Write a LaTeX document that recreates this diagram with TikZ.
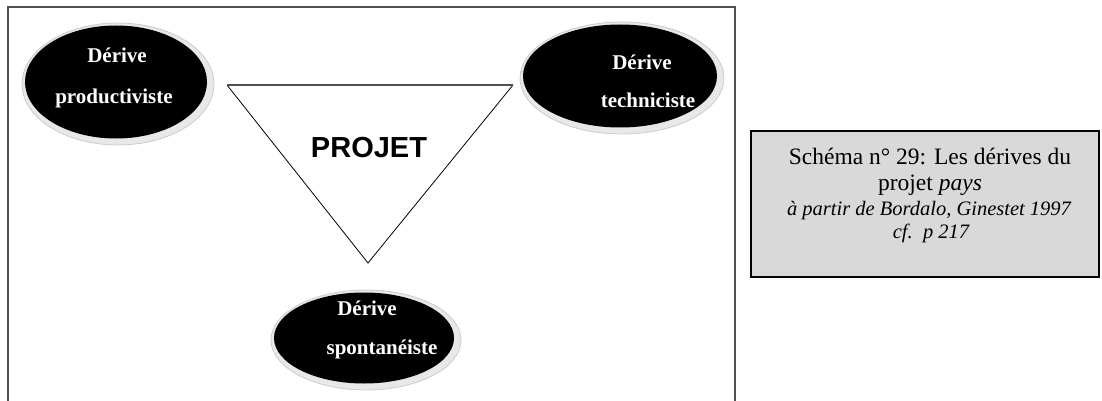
\documentclass[tikz,border=0pt]{standalone}
\usepackage{fontspec}
\usetikzlibrary{shapes.geometric}
\setmainfont{Liberation Serif}
\newfontfamily\arialfont{Liberation Sans}
\definecolor{framegray}{HTML}{505050}
\definecolor{boxgray}{HTML}{D9D9D9}
\definecolor{halogray}{HTML}{E8E8E8}
\begin{document}
\begin{tikzpicture}[x=1pt,y=-1pt,
  halo/.style={ellipse, fill=halogray, draw=gray!40, line width=0.8pt, inner sep=0pt},
  blackell/.style={ellipse, fill=black, inner sep=0pt},
  elltext/.style={text=white, font=\fontsize{21}{21}\selectfont\bfseries, inner sep=0pt, anchor=base},
  captext/.style={font=\fontsize{23.5}{24}\selectfont, inner sep=0pt, anchor=base},
  capital/.style={font=\fontsize{20.5}{21}\selectfont\itshape, inner sep=0pt, anchor=base}]
\useasboundingbox (0,0) rectangle (1102,401);
% frame (open at bottom)
\draw[framegray, line width=1.8pt] (8,401) -- (8,7) -- (735,7) -- (735,401);
% triangle
\coordinate (tl) at (227,85);
\coordinate (tr) at (513,85);
\coordinate (ta) at (368,263);
\draw[black, line width=0.8pt] (tl) -- (ta) -- (tr);
\draw[framegray, line width=1.6pt] (tl) -- (tr);
\node[font=\fontsize{29}{29}\selectfont\arialfont\bfseries, inner sep=0pt] (projet) at (369,148) {PROJET};
% left ellipse
\node[halo, minimum width=192pt, minimum height=122pt] (hl) at (118,84) {};
\node[blackell, minimum width=182pt, minimum height=113pt] (el) at (116,82) {};
\node[elltext] (el1) at (117,63) {Dérive};
\node[elltext] (el2) at (114,103) {productiviste};
% right ellipse
\node[halo, minimum width=204pt, minimum height=112pt] (hr) at (622,78) {};
\node[blackell, minimum width=194pt, minimum height=103pt] (er) at (620,76) {};
\node[elltext] (er1) at (642,70) {Dérive};
\node[elltext] (er2) at (648,107) {techniciste};
% bottom ellipse
\node[halo, minimum width=190pt, minimum height=100pt] (hb) at (366,340) {};
\node[blackell, minimum width=180pt, minimum height=91pt] (eb) at (364,338) {};
\node[elltext] (eb1) at (367,315) {Dérive};
\node[elltext] (eb2) at (382,354) {spontanéiste};
% caption box
\node[draw=black, fill=boxgray, line width=1.8pt, minimum width=348pt, minimum height=146pt, inner sep=0pt] (cap) at (925,204) {};
\node[captext] (c1) at (930,164) {Schéma n° 29: Les dérives du};
\node[captext] (c2) at (930,190) {projet \textit{pays}};
\node[capital] (c3) at (929,215) {à partir de Bordalo, Ginestet 1997};
\node[capital] (c4) at (931,238) {cf.\ \ p 217};
\end{tikzpicture}
\end{document}
